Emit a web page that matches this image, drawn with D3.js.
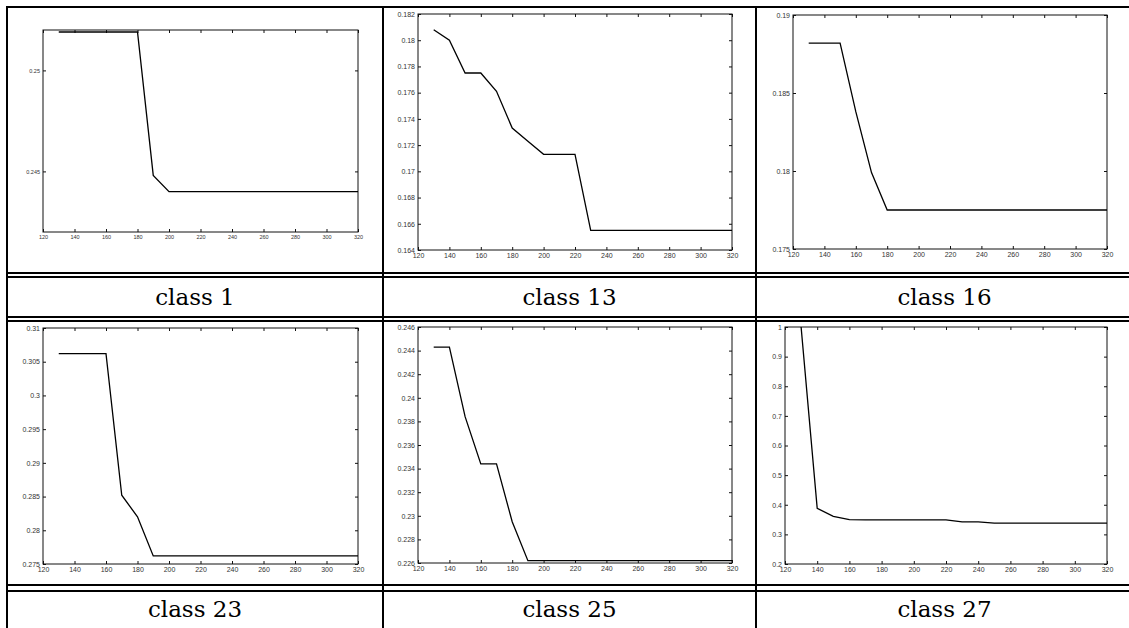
<!DOCTYPE html>
<html>
<head>
<meta charset="utf-8">
<script src="https://cdn.jsdelivr.net/npm/d3@7"></script>
<style>
  body { margin: 0; background: #fff; }
  svg { display: block; }
  .tick text { font-family: "Liberation Sans", Arial, sans-serif; fill: #333; }
  .caption { font-family: "DejaVu Serif", "Liberation Serif", serif; font-size: 23px; fill: #000; }
</style>
</head>
<body>
<svg width="1129" height="628"></svg>
<script>
// sample sizes on the x axis
const sizes = [130, 140, 150, 160, 170, 180, 190, 200, 210, 220, 230, 240, 250, 260, 270, 280, 290, 300, 310, 320];
const xTicks = [120, 140, 160, 180, 200, 220, 240, 260, 280, 300, 320];

const captions = ["class 1", "class 13", "class 16", "class 23", "class 25", "class 27"];

// error rate per sample size
const class1 = [0.2519, 0.2519, 0.2519, 0.2519, 0.2519, 0.2519, 0.2448, 0.2440, 0.2440, 0.2440,
                0.2440, 0.2440, 0.2440, 0.2440, 0.2440, 0.2440, 0.2440, 0.2440, 0.2440, 0.2440];
const class13 = [0.1808, 0.1800, 0.1775, 0.1775, 0.1761, 0.1733, 0.1723, 0.1713, 0.1713, 0.1713,
                 0.1655, 0.1655, 0.1655, 0.1655, 0.1655, 0.1655, 0.1655, 0.1655, 0.1655, 0.1655];
const class16 = [0.1882, 0.1882, 0.1882, 0.1838, 0.1799, 0.1775, 0.1775, 0.1775, 0.1775, 0.1775,
                 0.1775, 0.1775, 0.1775, 0.1775, 0.1775, 0.1775, 0.1775, 0.1775, 0.1775, 0.1775];
const class23 = [0.3062, 0.3062, 0.3062, 0.3062, 0.2852, 0.2820, 0.2762, 0.2762, 0.2762, 0.2762,
                 0.2762, 0.2762, 0.2762, 0.2762, 0.2762, 0.2762, 0.2762, 0.2762, 0.2762, 0.2762];
const class25 = [0.2443, 0.2443, 0.2384, 0.2344, 0.2344, 0.2295, 0.2262, 0.2262, 0.2262, 0.2262,
                 0.2262, 0.2262, 0.2262, 0.2262, 0.2262, 0.2262, 0.2262, 0.2262, 0.2262, 0.2262];
const class27 = [1.0, 0.388, 0.361, 0.350, 0.349, 0.349, 0.349, 0.349, 0.349, 0.349,
                 0.342, 0.342, 0.338, 0.338, 0.338, 0.338, 0.338, 0.338, 0.338, 0.338];

// y limits and tick values of each plot
const yDom1 = [0.242, 0.252];
const yTicks1 = [0.245, 0.25];
const yDom13 = [0.164, 0.182];
const yTicks13 = [0.164, 0.166, 0.168, 0.17, 0.172, 0.174, 0.176, 0.178, 0.18, 0.182];
const yDom16 = [0.175, 0.19];
const yTicks16 = [0.175, 0.18, 0.185, 0.19];
const yDom23 = [0.275, 0.31];
const yTicks23 = [0.275, 0.28, 0.285, 0.29, 0.295, 0.3, 0.305, 0.31];
const yDom25 = [0.226, 0.246];
const yTicks25 = [0.226, 0.228, 0.23, 0.232, 0.234, 0.236, 0.238, 0.24, 0.242, 0.244, 0.246];
const yDom27 = [0.2, 1];
const yTicks27 = [0.2, 0.3, 0.4, 0.5, 0.6, 0.7, 0.8, 0.9, 1];

const svg = d3.select('svg');

// table cells: left edges of columns, caption baselines
const colX = [7, 383, 756, 1133];
const capY = [305, 617];

// plot boxes inside the cells
const panels = [
  {values: class1,  dom: yDom1,  ticks: yTicks1,  x0: 43,  x1: 358,  y0: 30,  y1: 232, fs: 5.5},
  {values: class13, dom: yDom13, ticks: yTicks13, x0: 418, x1: 732,  y0: 14,  y1: 250, fs: 7},
  {values: class16, dom: yDom16, ticks: yTicks16, x0: 793, x1: 1107, y0: 15,  y1: 249, fs: 7},
  {values: class23, dom: yDom23, ticks: yTicks23, x0: 43,  x1: 358,  y0: 328, y1: 564, fs: 7},
  {values: class25, dom: yDom25, ticks: yTicks25, x0: 418, x1: 732,  y0: 327, y1: 563, fs: 7},
  {values: class27, dom: yDom27, ticks: yTicks27, x0: 785, x1: 1107, y0: 327, y1: 564, fs: 7}
];

const fmt = v => String(+v.toFixed(4));

panels.forEach((p, i) => {
  const x = d3.scaleLinear().domain([120, 320]).range([p.x0, p.x1]);
  const y = d3.scaleLinear().domain(p.dom).range([p.y1, p.y0]);
  const g = svg.append('g');

  g.append('rect')
    .attr('x', p.x0).attr('y', p.y0)
    .attr('width', p.x1 - p.x0).attr('height', p.y1 - p.y0)
    .attr('fill', 'none').attr('stroke', '#111').attr('stroke-width', 1);

  const styleAxis = sel => {
    sel.select('.domain').remove();
    sel.selectAll('.tick line').attr('stroke', '#111');
    sel.selectAll('.tick text').style('font-size', p.fs + 'px');
  };

  g.append('g').attr('transform', `translate(0,${p.y1})`)
    .call(d3.axisBottom(x).tickValues(xTicks).tickSizeInner(-3).tickSizeOuter(0).tickPadding(3))
    .call(styleAxis);
  g.append('g').attr('transform', `translate(0,${p.y0})`)
    .call(d3.axisTop(x).tickValues(xTicks).tickSizeInner(-3).tickSizeOuter(0).tickFormat(''))
    .call(styleAxis);
  g.append('g').attr('transform', `translate(${p.x0},0)`)
    .call(d3.axisLeft(y).tickValues(p.ticks).tickSizeInner(-3).tickSizeOuter(0).tickPadding(3).tickFormat(fmt))
    .call(styleAxis);
  g.append('g').attr('transform', `translate(${p.x1},0)`)
    .call(d3.axisRight(y).tickValues(p.ticks).tickSizeInner(-3).tickSizeOuter(0).tickFormat(''))
    .call(styleAxis);

  g.append('clipPath').attr('id', 'clip' + i)
    .append('rect').attr('x', p.x0).attr('y', p.y0)
    .attr('width', p.x1 - p.x0).attr('height', p.y1 - p.y0);

  const line = d3.line().x((d, j) => x(sizes[j])).y(d => y(d));
  g.append('path')
    .attr('d', line(p.values))
    .attr('clip-path', `url(#clip${i})`)
    .attr('fill', 'none').attr('stroke', '#000').attr('stroke-width', 1.3);
});

// table rules (LaTeX tabular with double \hline)
const rules = svg.append('g').attr('stroke', '#000').attr('stroke-width', 2);
[7].forEach(yy => rules.append('line').attr('x1', 6).attr('x2', 1129).attr('y1', yy).attr('y2', yy));
[273, 277, 317, 321, 585, 591].forEach(yy =>
  rules.append('line').attr('x1', 6).attr('x2', 1129).attr('y1', yy).attr('y2', yy));
colX.slice(0, 3).forEach(xx =>
  rules.append('line').attr('x1', xx).attr('x2', xx).attr('y1', 6).attr('y2', 628));

captions.forEach((c, i) => {
  const col = i % 3, row = Math.floor(i / 3);
  svg.append('text').attr('class', 'caption')
    .attr('x', (colX[col] + colX[col + 1]) / 2)
    .attr('y', capY[row])
    .attr('text-anchor', 'middle')
    .text(c);
});
</script>
</body>
</html>
